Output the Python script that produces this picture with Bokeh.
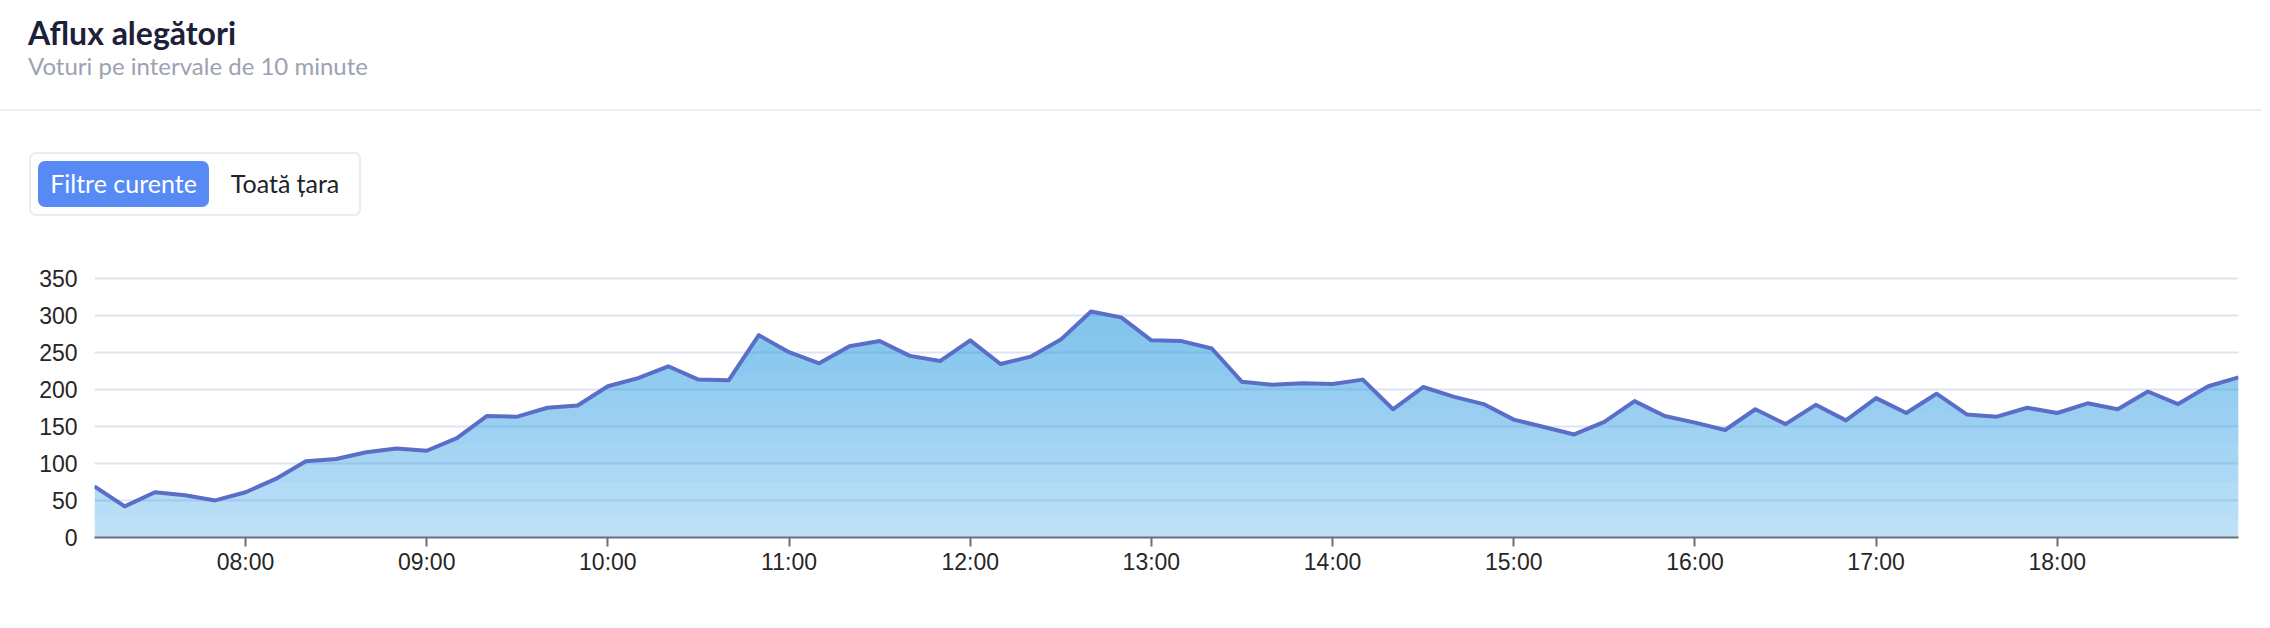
import numpy as np
from bokeh.plotting import figure
from bokeh.models import Range1d, FixedTicker, Div
from bokeh.layouts import column
from bokeh.embed import file_html
from bokeh.resources import INLINE

# ---------------- data ----------------
times = ["07:10", "07:20", "07:30", "07:40", "07:50",
         "08:00", "08:10", "08:20", "08:30", "08:40", "08:50",
         "09:00", "09:10", "09:20", "09:30", "09:40", "09:50",
         "10:00", "10:10", "10:20", "10:30", "10:40", "10:50",
         "11:00", "11:10", "11:20", "11:30", "11:40", "11:50",
         "12:00", "12:10", "12:20", "12:30", "12:40", "12:50",
         "13:00", "13:10", "13:20", "13:30", "13:40", "13:50",
         "14:00", "14:10", "14:20", "14:30", "14:40", "14:50",
         "15:00", "15:10", "15:20", "15:30", "15:40", "15:50",
         "16:00", "16:10", "16:20", "16:30", "16:40", "16:50",
         "17:00", "17:10", "17:20", "17:30", "17:40", "17:50",
         "18:00", "18:10", "18:20", "18:30", "18:40", "18:50",
         "19:00"]
votes = [69, 42, 61, 57, 50,
         61, 79, 103, 106, 115, 120,
         117, 134, 164, 163, 175, 178,
         204, 215, 231, 213, 212, 273,
         250, 235, 258, 265, 245, 238,
         266, 234, 244, 267, 305, 297,
         266, 265, 255, 210, 206, 208,
         207, 213, 173, 203, 190, 180,
         159, 149, 139, 156, 184, 164,
         155, 145, 173, 153, 179, 158,
         188, 168, 194, 166, 163, 175,
         168, 181, 173, 197, 180, 204,
         216]
x_tick_labels = ["08:00", "09:00", "10:00", "11:00", "12:00", "13:00",
                 "14:00", "15:00", "16:00", "17:00", "18:00"]
y_ticks = [0, 50, 100, 150, 200, 250, 300, 350]

title_text = "Aflux alegători"
subtitle_text = "Voturi pe intervale de 10 minute"
button_labels = ["Filtre curente", "Toată țara"]


def to_min(t):
    h, m = t.split(":")
    return int(h) * 60 + int(m)


x = np.array([to_min(t) for t in times], dtype=float)
y = np.array(votes, dtype=float)
tick_pos = [to_min(t) for t in x_tick_labels]

W = 2262
H_HEAD = 262
H_CHART = 358

# ---------------- header (HTML text) ----------------
header_html = f"""
<div style="position:relative;width:{W}px;height:{H_HEAD}px;font-family:Lato,sans-serif;">
  <div style="position:absolute;left:28px;top:17px;font-size:32px;line-height:32px;
              font-weight:bold;color:#1c2039;white-space:nowrap;">{title_text}</div>
  <div style="position:absolute;left:28px;top:54px;font-size:24px;line-height:24px;
              color:#9da2b3;white-space:nowrap;">{subtitle_text}</div>
  <div style="position:absolute;left:0;top:108.5px;width:{W}px;height:2px;background:#eeeff2;"></div>
  <div style="position:absolute;left:29px;top:151.7px;width:332px;height:64.3px;box-sizing:border-box;
              border:2px solid #ebecef;border-radius:7px;background:#ffffff;"></div>
  <div style="position:absolute;left:38px;top:161px;width:171px;height:45.7px;border-radius:7px;
              background:#578af5;color:#ffffff;font-size:25px;display:flex;align-items:center;
              justify-content:center;white-space:nowrap;">{button_labels[0]}</div>
  <div style="position:absolute;left:209px;top:161px;width:152px;height:45.7px;
              color:#222328;font-size:25px;display:flex;align-items:center;
              justify-content:center;white-space:nowrap;">{button_labels[1]}</div>
</div>
"""
header = Div(text=header_html, width=W, height=H_HEAD, margin=(0, 0, 0, 0))

# ---------------- chart ----------------
p = figure(width=W, height=H_CHART, x_range=Range1d(x[0], x[-1]),
           y_range=Range1d(0, 371), output_backend="svg",
           toolbar_location=None, min_border_left=94, min_border_right=24,
           min_border_top=0, min_border_bottom=83, outline_line_color=None,
           title=None)

p.xgrid.visible = False
p.ygrid.grid_line_color = "#e0e4f1"
p.ygrid.grid_line_width = 2

p.yaxis.ticker = FixedTicker(ticks=y_ticks)
p.yaxis.axis_line_color = None
p.yaxis.major_tick_line_color = None
p.yaxis.minor_tick_line_color = None
p.yaxis.major_tick_out = 0
p.yaxis.major_tick_in = 0
p.yaxis.minor_tick_out = 0
p.yaxis.major_label_standoff = 17
p.yaxis.major_label_text_font = "Liberation Sans"
p.yaxis.major_label_text_font_size = "23px"
p.yaxis.major_label_text_color = "#262626"

p.xaxis.ticker = FixedTicker(ticks=tick_pos)
p.xaxis.major_label_overrides = {tp: lab for tp, lab in zip(tick_pos, x_tick_labels)}
p.xaxis.axis_line_color = "#6b6f78"
p.xaxis.axis_line_width = 2
p.xaxis.major_tick_line_color = "#6b6f78"
p.xaxis.major_tick_line_width = 2
p.xaxis.major_tick_out = 9
p.xaxis.major_tick_in = 0
p.xaxis.minor_tick_line_color = None
p.xaxis.minor_tick_out = 0
p.xaxis.major_label_standoff = 2
p.xaxis.major_label_text_font = "Liberation Sans"
p.xaxis.major_label_text_font_size = "23px"
p.xaxis.major_label_text_color = "#262626"

# vertical gradient: base layer + thin layers that deepen with height
FILL = "#2a9be8"
p.varea(x=x, y1=np.zeros_like(y), y2=y, fill_color=FILL, fill_alpha=0.30)
for level in range(25, 375, 25):
    p.varea(x=x, y1=np.minimum(y, level), y2=y, fill_color=FILL, fill_alpha=0.042)

p.line(x=x, y=y, line_color="#5a6ec8", line_width=4, line_join="round")

layout = column(header, p, spacing=0)
open("out.html", "w").write(file_html(layout, INLINE))
